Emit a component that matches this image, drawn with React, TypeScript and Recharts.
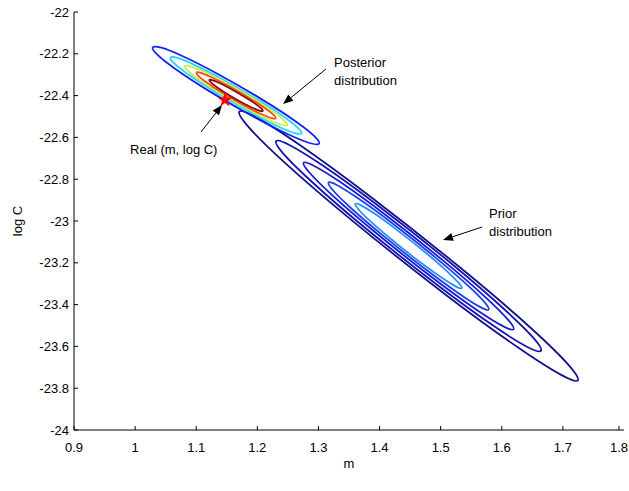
import React from 'react';
import { ComposedChart, Line, Scatter, XAxis, YAxis, ZAxis, ReferenceLine, ReferenceDot } from 'recharts';

// contour outlines, [m, log C]
const postBlue = [[1.025,-22.163],[1.040,-22.165],[1.073,-22.203],[1.131,-22.287],[1.215,-22.429],[1.269,-22.534],[1.297,-22.600],[1.305,-22.636],[1.290,-22.634],[1.257,-22.596],[1.199,-22.512],[1.115,-22.370],[1.061,-22.265],[1.033,-22.199]];
const postCyan = [[1.055,-22.213],[1.067,-22.215],[1.093,-22.246],[1.138,-22.312],[1.204,-22.424],[1.247,-22.506],[1.269,-22.558],[1.275,-22.586],[1.264,-22.584],[1.237,-22.554],[1.192,-22.487],[1.126,-22.375],[1.083,-22.293],[1.061,-22.241]];
const postYellow = [[1.079,-22.255],[1.088,-22.256],[1.109,-22.279],[1.145,-22.330],[1.196,-22.417],[1.229,-22.482],[1.246,-22.522],[1.251,-22.545],[1.242,-22.543],[1.221,-22.520],[1.186,-22.469],[1.134,-22.382],[1.101,-22.317],[1.084,-22.277]];
const postOrange = [[1.099,-22.287],[1.106,-22.288],[1.121,-22.306],[1.149,-22.346],[1.189,-22.414],[1.215,-22.464],[1.228,-22.495],[1.232,-22.512],[1.225,-22.511],[1.209,-22.493],[1.181,-22.453],[1.141,-22.385],[1.116,-22.335],[1.102,-22.304]];
const postDarkRed = [[1.120,-22.323],[1.125,-22.324],[1.136,-22.336],[1.154,-22.363],[1.181,-22.409],[1.199,-22.443],[1.208,-22.464],[1.210,-22.476],[1.205,-22.475],[1.195,-22.463],[1.176,-22.436],[1.149,-22.390],[1.132,-22.357],[1.123,-22.335]];

const prior1 = [[1.163,-22.459],[1.192,-22.488],[1.260,-22.613],[1.378,-22.863],[1.549,-23.259],[1.659,-23.538],[1.716,-23.703],[1.732,-23.780],[1.703,-23.751],[1.635,-23.626],[1.517,-23.377],[1.346,-22.981],[1.236,-22.702],[1.179,-22.536]];
const prior2 = [[1.225,-22.604],[1.248,-22.625],[1.302,-22.721],[1.394,-22.915],[1.528,-23.224],[1.613,-23.443],[1.658,-23.573],[1.670,-23.635],[1.646,-23.614],[1.593,-23.518],[1.501,-23.324],[1.367,-23.015],[1.282,-22.796],[1.237,-22.666]];
const prior3 = [[1.271,-22.710],[1.289,-22.727],[1.332,-22.803],[1.405,-22.957],[1.511,-23.203],[1.579,-23.377],[1.614,-23.480],[1.624,-23.529],[1.606,-23.513],[1.563,-23.436],[1.490,-23.282],[1.384,-23.036],[1.316,-22.862],[1.281,-22.759]];
const prior4 = [[1.313,-22.807],[1.327,-22.820],[1.359,-22.878],[1.415,-22.995],[1.496,-23.183],[1.548,-23.316],[1.575,-23.395],[1.582,-23.432],[1.568,-23.420],[1.536,-23.361],[1.480,-23.244],[1.399,-23.056],[1.347,-22.924],[1.320,-22.845]];
const prior5 = [[1.358,-22.912],[1.368,-22.920],[1.389,-22.958],[1.426,-23.036],[1.480,-23.160],[1.514,-23.249],[1.532,-23.302],[1.537,-23.327],[1.527,-23.319],[1.506,-23.281],[1.468,-23.203],[1.415,-23.079],[1.380,-22.990],[1.363,-22.938]];

const realPoint = [1.147, -22.421];

const xTicks = [0.9, 1, 1.1, 1.2, 1.3, 1.4, 1.5, 1.6, 1.7, 1.8];
const yTicks = [-24, -23.8, -23.6, -23.4, -23.2, -23, -22.8, -22.6, -22.4, -22.2, -22];

// arrows: [tail m, tail logC, tip m, tip logC]
const arrows = [
  [1.3124, -22.2727, 1.2421, -22.4402],
  [1.5678, -23.0287, 1.5039, -23.0909],
  [1.1079, -22.5742, 1.1422, -22.445],
];
// text notes: [m, logC, text]
const notes: [number, number, string][] = [
  [1.3255, -22.244, 'Posterior'],
  [1.3255, -22.330, 'distribution'],
  [1.5792, -22.962, 'Prior'],
  [1.5792, -23.048, 'distribution'],
  [0.9917, -22.656, 'Real (m, log C)'],
];

const contours = [
  { pts: prior1, color: '#12128c' },
  { pts: prior2, color: '#1414b0' },
  { pts: prior3, color: '#1a1ad6' },
  { pts: prior4, color: '#1a40f0' },
  { pts: prior5, color: '#2a90f8' },
  { pts: postBlue, color: '#1024f5' },
  { pts: postCyan, color: '#22d4ff' },
  { pts: postYellow, color: '#c4f04a' },
  { pts: postOrange, color: '#ff4a12' },
  { pts: postDarkRed, color: '#8a0c0c' },
];

const FONT = '"Liberation Sans", Arial, Helvetica, sans-serif';
const FS = 13;
const toXY = (a: number[][]) => a.map(([x, y]) => ({ x, y }));

const YTick = (p: any) => {
  const ax = p.x + 5;
  return (
    <g>
      <line x1={ax} x2={ax + 4} y1={p.y} y2={p.y} stroke="#000" />
      <text x={p.x} y={p.y + 4.5} textAnchor="end" fontSize={FS} fontFamily={FONT} fill="#000">{String(p.payload.value)}</text>
    </g>
  );
};

const XTick = (p: any) => {
  const ay = p.y - 12;
  return (
    <g>
      <line x1={p.x} x2={p.x} y1={ay} y2={ay - 4} stroke="#000" />
      <text x={p.x} y={p.y + 9.5} textAnchor="middle" fontSize={FS} fontFamily={FONT} fill="#000">{String(p.payload.value)}</text>
    </g>
  );
};

const YTitle = (p: any) => {
  const vb = p.viewBox || { x: 0, y: 12, height: 418 };
  const cx = vb.x + 22;
  const cy = vb.y + vb.height / 2;
  return (
    <text x={cx} y={cy} transform={`rotate(-90 ${cx} ${cy})`} textAnchor="middle" fontSize={FS} fontFamily={FONT} fill="#000">log C</text>
  );
};

const XTitle = (p: any) => {
  const vb = p.viewBox || { x: 74, y: 430, width: 550 };
  return (
    <text x={vb.x + vb.width / 2} y={vb.y + 38} textAnchor="middle" fontSize={FS} fontFamily={FONT} fill="#000">m</text>
  );
};

const Arrow = (p: any) => {
  const { x1, y1, x2, y2 } = p;
  const dx = x2 - x1, dy = y2 - y1;
  const len = Math.hypot(dx, dy) || 1;
  const ux = dx / len, uy = dy / len;
  const hl = 10, hw = 4;
  const bx = x2 - ux * hl, by = y2 - uy * hl;
  return (
    <g>
      <line x1={x1} y1={y1} x2={bx} y2={by} stroke="#000" strokeWidth={1} />
      <polygon points={`${x2},${y2} ${bx - uy * hw},${by + ux * hw} ${bx + uy * hw},${by - ux * hw}`} fill="#000" />
    </g>
  );
};

export default function App() {
  return (
    <div style={{ position: 'absolute', left: 0, top: 0, background: '#fff' }}>
      <ComposedChart width={629} height={491} margin={{ top: 12, right: 5, bottom: 21, left: 0 }}>
        <XAxis
          type="number"
          dataKey="x"
          domain={[0.9, 1.8]}
          ticks={xTicks}
          allowDataOverflow
          height={40}
          tickSize={0}
          tickMargin={12}
          tickLine={false}
          tick={<XTick />}
          axisLine={{ stroke: '#000' }}
          label={<XTitle />}
        />
        <YAxis
          type="number"
          dataKey="y"
          domain={[-24, -22]}
          ticks={yTicks}
          allowDataOverflow
          width={74}
          tickSize={0}
          tickMargin={5}
          tickLine={false}
          tick={<YTick />}
          axisLine={{ stroke: '#000' }}
          label={<YTitle />}
        />
        <ZAxis range={[70, 70]} />
        {contours.map((c, i) => (
          <Line
            key={i}
            data={toXY(c.pts)}
            dataKey="y"
            type="basisClosed"
            stroke={c.color}
            strokeWidth={1.8}
            dot={false}
            activeDot={false}
            isAnimationActive={false}
          />
        ))}
        <Scatter data={[{ x: realPoint[0], y: realPoint[1] }]} shape="star" fill="#ff0000" isAnimationActive={false} />
        {arrows.map((a, i) => (
          <ReferenceLine key={'a' + i} segment={[{ x: a[0], y: a[1] }, { x: a[2], y: a[3] }]} shape={Arrow} />
        ))}
        {notes.map((n, i) => (
          <ReferenceDot
            key={'n' + i}
            x={n[0]}
            y={n[1]}
            r={0}
            shape={(p: any) => (
              <text x={p.cx} y={p.cy + 4.5} fontSize={FS} fontFamily={FONT} fill="#000">{n[2]}</text>
            )}
          />
        ))}
      </ComposedChart>
    </div>
  );
}
